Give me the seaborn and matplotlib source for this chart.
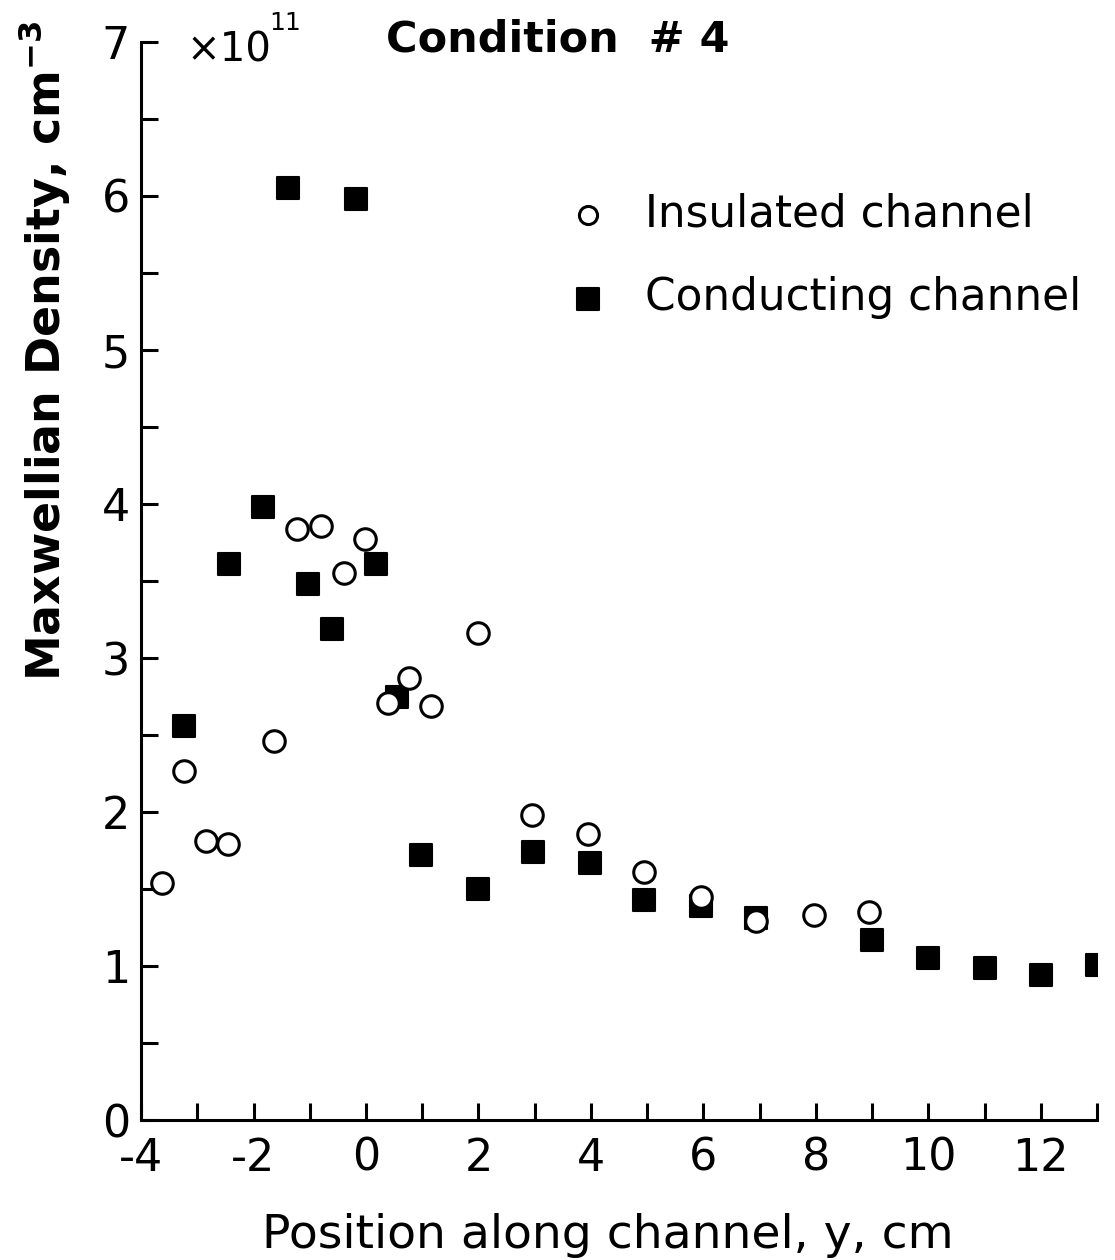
import matplotlib
matplotlib.use("Agg")
import matplotlib.pyplot as plt
import seaborn as sns
import pandas as pd
from matplotlib.ticker import MultipleLocator, FixedLocator

# ---- data (density in units of 1e11 cm^-3) ----
insulated_y = [-3.63, -3.23, -2.85, -2.46, -1.63, -1.23, -0.80, -0.40, -0.01,
               0.39, 0.76, 1.16, 1.99, 2.95, 3.95, 4.95, 5.95, 6.94, 7.96, 8.94]
insulated_n = [1.54, 2.27, 1.81, 1.79, 2.46, 3.84, 3.86, 3.55, 3.77,
               2.71, 2.87, 2.69, 3.16, 1.98, 1.86, 1.61, 1.45, 1.29, 1.33, 1.35]

conducting_y = [-3.23, -2.43, -1.83, -1.39, -1.03, -0.61, -0.17, 0.18, 0.55,
                0.98, 1.99, 2.97, 3.99, 4.95, 5.95, 6.94, 9.0, 10.0, 11.0, 12.0, 13.0]
conducting_n = [2.56, 3.61, 3.98, 6.05, 3.48, 3.19, 5.98, 3.61, 2.75,
                1.72, 1.50, 1.74, 1.67, 1.43, 1.39, 1.31, 1.17, 1.05, 0.99, 0.94, 1.01]

x_ticks = [-4, -2, 0, 2, 4, 6, 8, 10, 12]
y_ticks = [0, 1, 2, 3, 4, 5, 6, 7]

sns.set_theme(style="white")
plt.rcParams['font.family'] = ['DejaVu Sans']

fig = plt.figure(figsize=(11.15, 12.6), dpi=100)
ax = fig.add_axes([0.1265, 0.111, 0.8575, 0.8557])

df_c = pd.DataFrame({"y": conducting_y, "n": conducting_n})
df_i = pd.DataFrame({"y": insulated_y, "n": insulated_n})

sns.scatterplot(data=df_c, x="y", y="n", ax=ax, marker="s", color="black",
                edgecolor="black", s=240, linewidth=1.5, zorder=3,
                label="Conducting channel")
sns.scatterplot(data=df_i, x="y", y="n", ax=ax, marker="o", facecolor="white",
                edgecolor="black", s=240, linewidth=2.2, zorder=4,
                label="Insulated channel")
for coll in ax.collections:
    coll.set_joinstyle("round")

ax.set_xlim(-4, 13)
ax.set_ylim(0, 7)
ax.xaxis.set_major_locator(FixedLocator(x_ticks))
ax.xaxis.set_minor_locator(MultipleLocator(1))
ax.yaxis.set_major_locator(FixedLocator(y_ticks))
ax.yaxis.set_minor_locator(MultipleLocator(0.5))
ax.set_xticklabels([str(t) for t in x_ticks])
ax.set_yticklabels([str(t) for t in y_ticks])

for s in ["top", "right"]:
    ax.spines[s].set_visible(False)
for s in ["left", "bottom"]:
    ax.spines[s].set_linewidth(2.2)
    ax.spines[s].set_color("black")

ax.tick_params(axis="both", which="both", direction="in", length=12,
               width=2.2, color="black", labelsize=32, labelcolor="black")
ax.tick_params(axis="y", which="both", left=True, pad=8)
ax.tick_params(axis="x", which="both", bottom=True, pad=12)

ax.set_xlabel("Position along channel, y, cm", fontsize=34, color="black",
              va="top")
ax.xaxis.set_label_coords(0.4885, -0.086)
ax.set_ylabel("Maxwellian Density, cm$^{\\mathbf{-3}}$", fontsize=33,
              color="black", fontweight="bold")
ax.yaxis.set_label_coords(-0.072, 0.714)

fig.text(186 / 1115, 1 - 62 / 1260, "\u00d710", fontsize=29, color="black",
         va="baseline", ha="left")
fig.text(269 / 1115, 1 - 30 / 1260, "11", fontsize=18, color="black",
         va="baseline", ha="left")
fig.text(386 / 1115, 1 - 52 / 1260, "Condition  # 4", fontsize=31,
         color="black", va="baseline", ha="left", fontweight="bold")

h, l = ax.get_legend_handles_labels()
order = [1, 0]
leg = ax.legend([h[i] for i in order], [l[i] for i in order],
                loc="upper left", bbox_to_anchor=(0.445, 0.860),
                frameon=False, prop={"size": 31.5},
                handletextpad=0.8, labelspacing=0.92, borderaxespad=0,
                borderpad=0, handlelength=1.0)
leg.legend_handles[0].set_sizes([170])
leg.legend_handles[1].set_sizes([240])
for t in leg.get_texts():
    t.set_color("black")

fig.savefig("out.png", dpi=100, facecolor="white")
